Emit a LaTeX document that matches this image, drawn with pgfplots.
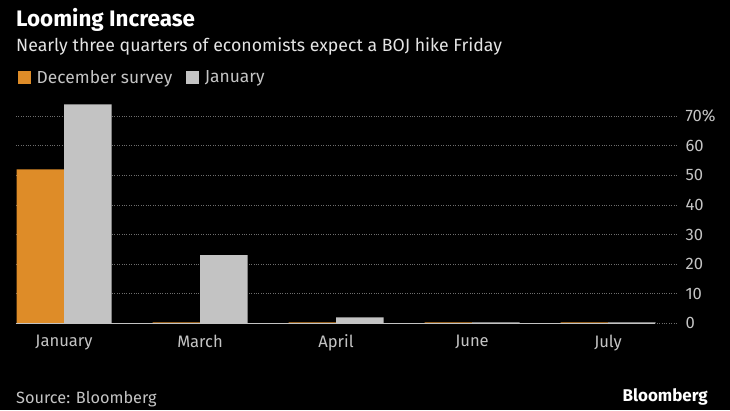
\documentclass[border=0pt]{standalone}
\usepackage{fontspec}
\setmainfont{Fira Sans}
\usepackage{pgfplots}
\pgfplotsset{compat=1.18}
\definecolor{bgblack}{HTML}{000000}
\definecolor{decorange}{HTML}{DE8C28}
\definecolor{jangray}{HTML}{C3C3C3}
\definecolor{ticktext}{HTML}{C4C4C4}
\definecolor{subtext}{HTML}{E4E4E4}
\definecolor{gridgray}{HTML}{6E6E6E}
\begin{document}
\begin{tikzpicture}
  \fill[bgblack] (0pt,0pt) rectangle (730pt,410pt);
  % titles
  \node[anchor=base west, inner sep=0pt, text=white, font=\fontsize{22.4}{24}\selectfont\bfseries]
    at (16pt,383pt) {Looming Increase};
  \node[anchor=base west, inner sep=0pt, text=subtext, font=\fontsize{17.7}{20}\selectfont]
    at (16pt,358pt) {Nearly three quarters of economists expect a BOJ hike Friday};
  % footer
  \node[anchor=base west, inner sep=0pt, text=ticktext, font=\fontsize{16.3}{18}\selectfont]
    at (16pt,7pt) {Source: Bloomberg};
  \node[anchor=base east, inner sep=0pt, text=white, font=\fontsize{17}{19}\selectfont\bfseries]
    at (708pt,9pt) {Bloomberg};

  \begin{axis}[
      at={(16pt,86.7pt)}, anchor=south west,
      scale only axis, width=661pt, height=227.9pt,
      xmin=-0.353, xmax=4.507,
      ymin=0, ymax=77,
      axis line style={draw=none},
      xtick={0,1,2,3,4},
      xticklabels={January,March,April,June,July},
      ytick={0,10,20,30,40,50,60,70},
      yticklabels={0,10,20,30,40,50,60,70\%},
      yticklabel pos=right,
      major tick length=0pt,
      ymajorgrids,
      grid style={dotted, gridgray, line width=0.8pt},
      x tick label style={font=\fontsize{16.6}{18}\selectfont, text=ticktext, yshift=-8pt},
      y tick label style={font=\fontsize{16.6}{18}\selectfont, text=ticktext, anchor=west, xshift=5pt},
      /pgf/number format/assume math mode=true,
      bar width=47.5pt,
      legend style={at={(axis description cs:0.003,1.12)}, anchor=north west,
                    draw=none, fill=none, legend columns=2, inner sep=0pt,
                    font=\fontsize{17.4}{19}\selectfont, text=ticktext,
                    /tikz/every odd column/.append style={column sep=4pt},
                    /tikz/every even column/.append style={column sep=12pt}},
      legend image code/.code={\fill[#1] (0pt,-6.5pt) rectangle (12.5pt,6.5pt);},
    ]
    \addplot[ybar, bar shift=-23.75pt, fill=decorange, draw=none]
      coordinates {(0,52) (1,0.35) (2,0.35) (3,0.35) (4,0.35)};
    \addlegendentry{December survey}
    \addplot[ybar, bar shift=23.75pt, fill=jangray, draw=none]
      coordinates {(0,74) (1,23) (2,2) (3,0.35) (4,0.3)};
    \addlegendentry{January}
    \draw[jangray, line width=0.8pt] (axis cs:-0.353,0) -- (axis cs:4.346,0);
  \end{axis}
\end{tikzpicture}
\end{document}
